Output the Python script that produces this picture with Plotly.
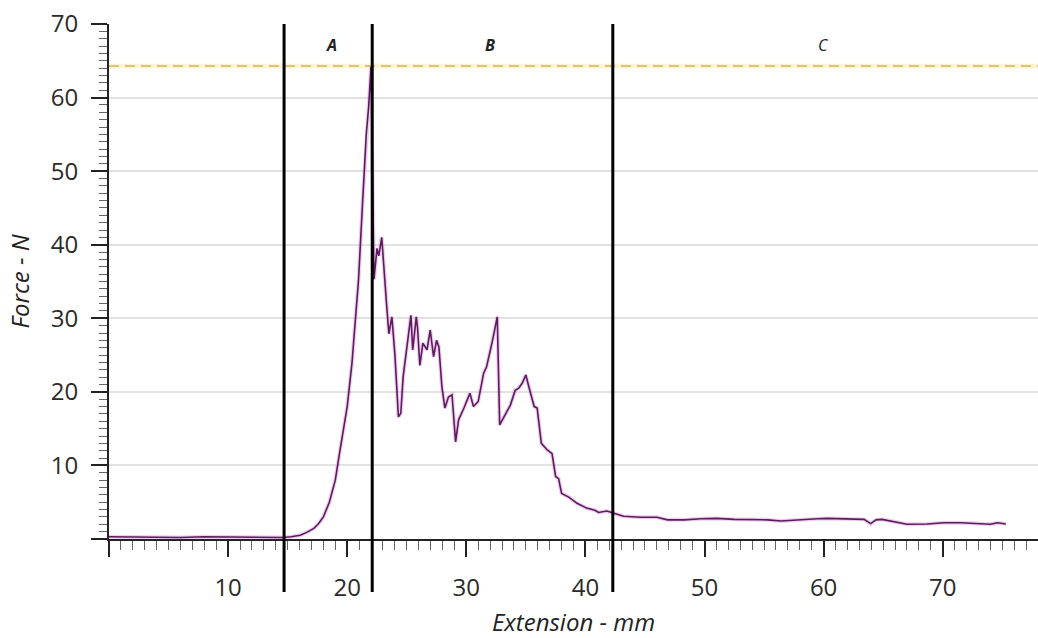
import plotly.graph_objects as go

# Extension (mm) and Force (N)
extension_mm = [0, 2, 4, 6, 8, 10, 12, 14, 14.6, 15.3, 16.05, 16.6, 17.2, 17.6, 18.0, 18.5,
                19.0, 19.35, 19.7, 20.0, 20.4, 20.75, 20.95, 21.3, 21.6, 21.8, 22.0, 22.25,
                22.5, 22.65, 22.9, 23.3, 23.5, 23.75, 24.0, 24.3, 24.5, 24.7, 25.0, 25.35,
                25.5, 25.8, 25.9, 26.1, 26.35, 26.55, 26.7, 26.97, 27.1, 27.25, 27.5, 27.7,
                27.95, 28.2, 28.5, 28.8, 29.1, 29.35, 29.8, 30.3, 30.6, 31.0, 31.45, 31.7,
                32.15, 32.6, 32.8, 33.15, 33.7, 34.1, 34.4, 34.7, 35.0, 35.25, 35.5, 35.7,
                35.95, 36.3, 36.8, 37.2, 37.5, 37.75, 38.0, 38.6, 39.3, 40.1, 40.8, 41.1,
                41.8, 42.4, 43.2, 44.6, 46.0, 46.9, 48.3, 49.7, 51.05, 52.5, 53.9, 55.3,
                56.4, 58.1, 59.5, 60.3, 61.7, 63.4, 63.95, 64.4, 64.9, 65.9, 66.5, 67.0,
                68.7, 70.1, 71.5, 72.9, 74.0, 74.6, 75.3]
force_n = [0.3, 0.25, 0.3, 0.2, 0.3, 0.25, 0.3, 0.25, 0.2, 0.3, 0.5, 0.9, 1.45, 2.1, 3.0, 5.0,
           8.0, 11.6, 14.8, 18.0, 23.9, 30.7, 35.2, 46.0, 55.0, 58.7, 64.2, 35.3,
           39.5, 38.5, 41.0, 32.0, 27.9, 30.2, 25.2, 16.6, 17.1, 22.1, 25.7, 30.4,
           25.7, 30.2, 28.8, 23.6, 26.6, 26.1, 25.7, 28.4, 27.0, 24.8, 27.0, 26.1,
           20.7, 17.8, 19.3, 19.6, 13.2, 16.2, 17.8, 19.8, 18.0, 18.7, 22.5, 23.4,
           26.6, 30.2, 15.5, 16.6, 18.2, 20.2, 20.5, 21.2, 22.3, 20.7, 19.3, 18.0,
           17.8, 13.0, 12.1, 11.6, 8.5, 8.2, 6.2, 5.7, 4.85, 4.2, 3.9, 3.6,
           3.8, 3.5, 3.1, 2.95, 2.95, 2.6, 2.6, 2.76, 2.8, 2.67, 2.67, 2.6,
           2.45, 2.67, 2.76, 2.8, 2.7, 2.67, 2.1, 2.6, 2.67, 2.35, 2.2, 2.0,
           2.04, 2.2, 2.2, 2.1, 2.0, 2.2, 2.04]

region_bounds = [14.7, 22.1, 42.3]
region_labels = ["A", "B", "C"]
region_label_x = [18.65, 32.0, 60.0]
region_label_y = 67.1
max_force = 64.3

x_ticks = [0, 10, 20, 30, 40, 50, 60, 70]
x_ticktext = ["", "10", "20", "30", "40", "50", "60", "70"]
y_ticks = [0, 10, 20, 30, 40, 50, 60, 70]
y_ticktext = ["", "10", "20", "30", "40", "50", "60", "70"]

FONT = "Open Sans, DejaVu Sans, sans-serif"

fig = go.Figure()

# soft halo under the curve
fig.add_trace(go.Scatter(x=extension_mm, y=force_n, mode="lines",
                         line=dict(color="rgba(200,120,200,0.35)", width=4),
                         hoverinfo="skip", showlegend=False))
fig.add_trace(go.Scatter(x=extension_mm, y=force_n, mode="lines",
                         line=dict(color="#5e1a5e", width=1.6),
                         showlegend=False))

# max force dashed line
fig.add_shape(type="line", xref="paper", yref="y", x0=0, x1=1, y0=max_force, y1=max_force,
              line=dict(color="rgba(250,235,170,0.5)", width=5), layer="below")
fig.add_shape(type="line", xref="paper", yref="y", x0=0, x1=1, y0=max_force, y1=max_force,
              line=dict(color="#d2b25a", width=1.6, dash="10px,6px"))

# region boundaries
for xb in region_bounds:
    fig.add_shape(type="line", xref="x", yref="paper", x0=xb, x1=xb, y0=-0.103, y1=1.0,
                  line=dict(color="black", width=3))

for lab, lx in zip(region_labels, region_label_x):
    txt = "<i><b>%s</b></i>" % lab if lab != "C" else "<i>%s</i>" % lab
    fig.add_annotation(x=lx, y=region_label_y, text=txt,
                       showarrow=False, font=dict(family=FONT, size=16, color="#222"))

fig.update_layout(
    width=1038, height=638,
    margin=dict(l=109, r=0, t=24, b=99),
    paper_bgcolor="white", plot_bgcolor="white",
    font=dict(family=FONT, color="#333"),
    xaxis=dict(range=[0, 78], tickmode="array", tickvals=x_ticks, ticktext=x_ticktext,
               ticks="outside", ticklen=16, tickwidth=2, tickcolor="#222",
               showline=True, linecolor="#222", linewidth=2, showgrid=False, zeroline=False,
               tickfont=dict(size=24, color="#2a2a2a"), ticklabelstandoff=10,
               minor=dict(dtick=1, ticks="outside", ticklen=9, tickwidth=1, tickcolor="#666", showgrid=False),
               title=dict(text="<i>Extension - mm</i>", font=dict(size=24, color="#222"), standoff=16)),
    yaxis=dict(range=[0, 70], tickmode="array", tickvals=y_ticks, ticktext=y_ticktext,
               ticks="outside", ticklen=16, tickwidth=2, tickcolor="#222",
               showline=True, linecolor="#222", linewidth=2,
               showgrid=True, gridcolor="#e2e2e2", gridwidth=2, zeroline=False,
               tickfont=dict(size=24, color="#2a2a2a"), ticklabelstandoff=8,
               minor=dict(dtick=1, ticks="outside", ticklen=8, tickwidth=1, tickcolor="#666", showgrid=False),
               title=dict(text="<i>Force - N</i>", font=dict(size=24, color="#222"), standoff=14)),
)

fig.write_html("out.html")
